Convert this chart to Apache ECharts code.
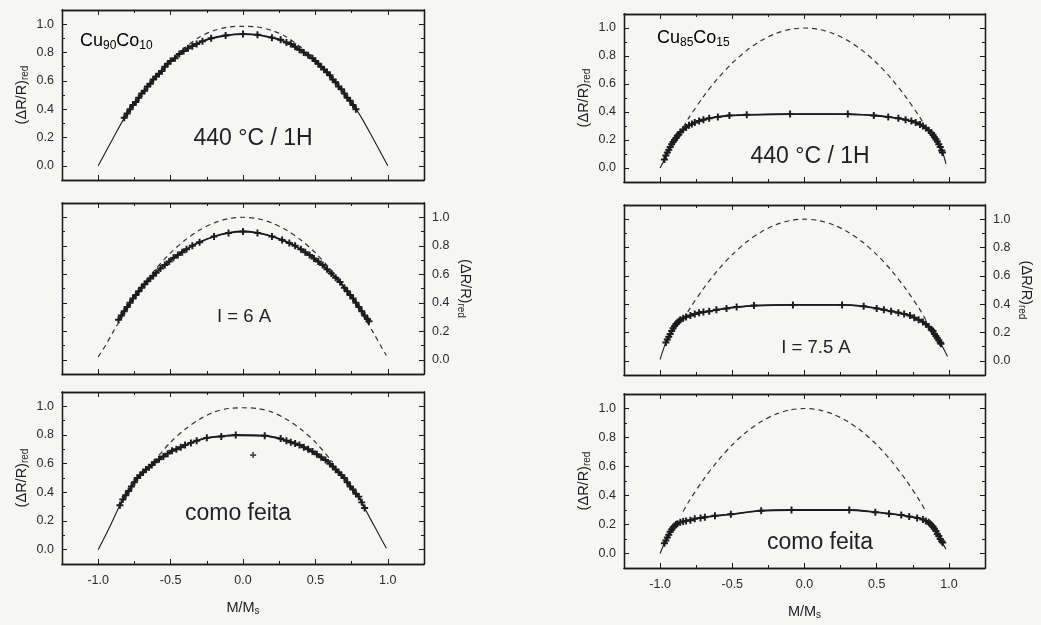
<!DOCTYPE html>
<html>
<head>
<meta charset="utf-8">
<script src="https://cdn.jsdelivr.net/npm/echarts@6/dist/echarts.min.js"></script>
<style>
  html, body { margin: 0; padding: 0; background: #f6f6f4; }
  #main { width: 1041px; height: 625px; }
</style>
</head>
<body>
<div id="main"></div>
<script>
// eixos
const xMajorTicks = [-1.0, -0.5, 0.0, 0.5, 1.0]
const xMinorTicks = [-0.75, -0.25, 0.25, 0.75]
const yMajorTicks = [0.0, 0.2, 0.4, 0.6, 0.8, 1.0]
const yMinorTicks = [0.1, 0.3, 0.5, 0.7, 0.9]

// curva 1 - m^2 (tracejada)
const theoCu90Top = [[-0.42, 0.82], [-0.3, 0.91], [-0.2, 0.955], [-0.1, 0.98], [0, 0.985], [0.1, 0.98], [0.2, 0.955], [0.3, 0.91], [0.42, 0.82]]
const theoCu90Mid = [[-1.0, 0.02], [-0.95, 0.1], [-0.9, 0.19], [-0.8, 0.36], [-0.7, 0.51], [-0.6, 0.64], [-0.5, 0.75], [-0.4, 0.84], [-0.3, 0.91], [-0.2, 0.96], [-0.1, 0.99], [0, 1.0], [0.1, 0.99], [0.2, 0.96], [0.3, 0.91], [0.4, 0.84], [0.5, 0.75], [0.6, 0.64], [0.7, 0.51], [0.8, 0.36], [0.9, 0.19], [0.95, 0.1], [0.99, 0.03]]
const theoCu90Bot = [[-0.62, 0.61], [-0.5, 0.75], [-0.4, 0.84], [-0.3, 0.91], [-0.2, 0.96], [-0.1, 0.985], [0, 0.99], [0.1, 0.985], [0.2, 0.96], [0.3, 0.91], [0.4, 0.84], [0.5, 0.75], [0.62, 0.61]]
const theoCu85 = [[-0.84, 0.29], [-0.8, 0.36], [-0.7, 0.51], [-0.6, 0.64], [-0.5, 0.75], [-0.4, 0.84], [-0.3, 0.91], [-0.2, 0.96], [-0.1, 0.99], [0, 1.0], [0.1, 0.99], [0.2, 0.96], [0.3, 0.91], [0.4, 0.84], [0.5, 0.75], [0.6, 0.64], [0.7, 0.51], [0.8, 0.36], [0.84, 0.29]]

// Cu90Co10 - 440 °C / 1H
const cu90RecFit = [[-1.0, 0.0], [-0.9, 0.19], [-0.8, 0.37], [-0.7, 0.51], [-0.6, 0.635], [-0.5, 0.74], [-0.4, 0.815], [-0.3, 0.87], [-0.2, 0.905], [-0.1, 0.925], [0, 0.93], [0.1, 0.925], [0.2, 0.905], [0.3, 0.87], [0.4, 0.815], [0.5, 0.74], [0.6, 0.635], [0.7, 0.51], [0.8, 0.37], [0.9, 0.19], [1.0, 0.0]]
const cu90RecData = [[-0.82, 0.34], [-0.8, 0.37], [-0.78, 0.4], [-0.76, 0.43], [-0.74, 0.45], [-0.72, 0.48], [-0.7, 0.51], [-0.68, 0.53], [-0.66, 0.56], [-0.64, 0.58], [-0.62, 0.61], [-0.6, 0.63], [-0.58, 0.65], [-0.56, 0.67], [-0.54, 0.7], [-0.52, 0.72], [-0.5, 0.74], [-0.47, 0.76], [-0.44, 0.79], [-0.41, 0.81], [-0.38, 0.83], [-0.35, 0.845], [-0.32, 0.86], [-0.28, 0.88], [-0.22, 0.9], [-0.12, 0.92], [0.0, 0.93], [0.1, 0.925], [0.2, 0.905], [0.26, 0.89], [0.3, 0.87], [0.33, 0.86], [0.36, 0.84], [0.39, 0.82], [0.42, 0.8], [0.45, 0.78], [0.48, 0.76], [0.5, 0.74], [0.52, 0.72], [0.54, 0.7], [0.56, 0.68], [0.58, 0.66], [0.6, 0.64], [0.62, 0.61], [0.64, 0.59], [0.66, 0.56], [0.68, 0.54], [0.7, 0.51], [0.72, 0.48], [0.74, 0.46], [0.76, 0.43], [0.78, 0.4]]

// Cu90Co10 - I = 6 A
const cu90I6Fit = [[-0.86, 0.28], [-0.8, 0.37], [-0.7, 0.505], [-0.6, 0.61], [-0.5, 0.7], [-0.4, 0.77], [-0.3, 0.825], [-0.2, 0.865], [-0.1, 0.89], [0, 0.9], [0.1, 0.89], [0.2, 0.865], [0.3, 0.825], [0.4, 0.775], [0.5, 0.7], [0.6, 0.615], [0.7, 0.505], [0.8, 0.37], [0.87, 0.27]]
const cu90I6Data = [[-0.86, 0.28], [-0.84, 0.31], [-0.82, 0.34], [-0.8, 0.37], [-0.78, 0.4], [-0.76, 0.43], [-0.74, 0.455], [-0.72, 0.48], [-0.7, 0.505], [-0.68, 0.53], [-0.66, 0.55], [-0.64, 0.57], [-0.62, 0.59], [-0.6, 0.61], [-0.57, 0.64], [-0.54, 0.665], [-0.51, 0.69], [-0.48, 0.715], [-0.45, 0.735], [-0.42, 0.755], [-0.39, 0.775], [-0.35, 0.8], [-0.3, 0.825], [-0.2, 0.865], [-0.1, 0.89], [0.0, 0.9], [0.1, 0.89], [0.2, 0.865], [0.27, 0.84], [0.32, 0.82], [0.36, 0.8], [0.4, 0.775], [0.43, 0.755], [0.46, 0.735], [0.49, 0.71], [0.52, 0.69], [0.55, 0.665], [0.58, 0.635], [0.61, 0.605], [0.64, 0.575], [0.67, 0.545], [0.7, 0.505], [0.72, 0.48], [0.74, 0.455], [0.76, 0.43], [0.78, 0.4], [0.8, 0.37], [0.82, 0.34], [0.84, 0.31], [0.86, 0.285], [0.87, 0.27]]

// Cu90Co10 - como feita
const cu90AsFit = [[-1.0, 0.0], [-0.92, 0.16], [-0.85, 0.31], [-0.8, 0.39], [-0.75, 0.47], [-0.7, 0.53], [-0.6, 0.62], [-0.5, 0.685], [-0.4, 0.73], [-0.3, 0.765], [-0.2, 0.79], [-0.1, 0.795], [0, 0.795], [0.1, 0.795], [0.2, 0.785], [0.3, 0.76], [0.4, 0.725], [0.5, 0.665], [0.6, 0.6], [0.7, 0.5], [0.8, 0.37], [0.84, 0.29], [0.92, 0.14], [0.99, 0.01]]
const cu90AsData = [[-0.85, 0.31], [-0.83, 0.35], [-0.81, 0.38], [-0.79, 0.41], [-0.77, 0.44], [-0.75, 0.47], [-0.73, 0.5], [-0.71, 0.52], [-0.69, 0.54], [-0.67, 0.56], [-0.65, 0.575], [-0.63, 0.59], [-0.61, 0.61], [-0.58, 0.63], [-0.55, 0.65], [-0.52, 0.67], [-0.49, 0.69], [-0.46, 0.7], [-0.43, 0.715], [-0.4, 0.73], [-0.36, 0.745], [-0.32, 0.76], [-0.25, 0.78], [-0.15, 0.79], [-0.05, 0.8], [0.15, 0.795], [0.26, 0.775], [0.3, 0.76], [0.33, 0.75], [0.36, 0.74], [0.39, 0.73], [0.42, 0.715], [0.45, 0.7], [0.48, 0.685], [0.51, 0.665], [0.54, 0.645], [0.57, 0.625], [0.6, 0.6], [0.62, 0.58], [0.64, 0.56], [0.66, 0.54], [0.68, 0.52], [0.7, 0.5], [0.72, 0.47], [0.74, 0.44], [0.76, 0.42], [0.78, 0.39], [0.8, 0.37], [0.82, 0.33], [0.84, 0.29]]
const cu90AsOutlier = [[0.07, 0.66]]

// Cu85Co15 - 440 °C / 1H
const cu85RecFit = [[-1.0, 0.0], [-0.97, 0.06], [-0.94, 0.13], [-0.9, 0.2], [-0.86, 0.255], [-0.8, 0.305], [-0.7, 0.345], [-0.6, 0.365], [-0.5, 0.375], [-0.4, 0.38], [-0.2, 0.385], [0, 0.385], [0.2, 0.385], [0.4, 0.38], [0.5, 0.372], [0.6, 0.362], [0.7, 0.345], [0.8, 0.31], [0.86, 0.27], [0.9, 0.22], [0.94, 0.15], [0.96, 0.1], [0.98, 0.03]]
const cu85RecData = [[-0.97, 0.06], [-0.96, 0.09], [-0.95, 0.11], [-0.94, 0.13], [-0.93, 0.15], [-0.92, 0.17], [-0.91, 0.185], [-0.9, 0.2], [-0.89, 0.215], [-0.88, 0.23], [-0.87, 0.24], [-0.86, 0.255], [-0.84, 0.275], [-0.82, 0.29], [-0.8, 0.305], [-0.78, 0.315], [-0.76, 0.325], [-0.73, 0.335], [-0.7, 0.345], [-0.66, 0.355], [-0.6, 0.365], [-0.52, 0.375], [-0.4, 0.38], [-0.1, 0.385], [0.3, 0.385], [0.48, 0.375], [0.58, 0.365], [0.65, 0.355], [0.7, 0.345], [0.74, 0.335], [0.77, 0.325], [0.8, 0.31], [0.82, 0.3], [0.84, 0.285], [0.86, 0.27], [0.88, 0.25], [0.89, 0.235], [0.9, 0.22], [0.91, 0.205], [0.92, 0.19], [0.93, 0.17], [0.94, 0.15], [0.95, 0.125], [0.955, 0.11]]

// Cu85Co15 - I = 7.5 A
const cu85I75Fit = [[-1.0, 0.01], [-0.96, 0.13], [-0.92, 0.21], [-0.88, 0.27], [-0.84, 0.3], [-0.78, 0.325], [-0.7, 0.345], [-0.6, 0.36], [-0.5, 0.375], [-0.35, 0.39], [-0.1, 0.395], [0.25, 0.395], [0.4, 0.385], [0.5, 0.37], [0.6, 0.35], [0.7, 0.325], [0.8, 0.285], [0.86, 0.24], [0.9, 0.19], [0.945, 0.12], [0.99, 0.03]]
const cu85I75Data = [[-0.96, 0.13], [-0.95, 0.15], [-0.94, 0.17], [-0.93, 0.19], [-0.92, 0.21], [-0.91, 0.23], [-0.9, 0.245], [-0.89, 0.26], [-0.88, 0.27], [-0.87, 0.28], [-0.86, 0.29], [-0.84, 0.3], [-0.82, 0.31], [-0.79, 0.32], [-0.76, 0.33], [-0.73, 0.34], [-0.7, 0.345], [-0.66, 0.35], [-0.61, 0.36], [-0.54, 0.37], [-0.47, 0.38], [-0.35, 0.39], [-0.08, 0.395], [0.26, 0.395], [0.41, 0.385], [0.5, 0.37], [0.55, 0.36], [0.6, 0.35], [0.65, 0.34], [0.69, 0.33], [0.73, 0.32], [0.76, 0.305], [0.79, 0.29], [0.82, 0.275], [0.84, 0.26], [0.86, 0.24], [0.88, 0.22], [0.89, 0.21], [0.9, 0.19], [0.91, 0.175], [0.92, 0.16], [0.93, 0.145], [0.94, 0.13], [0.945, 0.12]]

// Cu85Co15 - como feita
const cu85AsFit = [[-1.0, 0.0], [-0.97, 0.07], [-0.94, 0.13], [-0.91, 0.18], [-0.88, 0.205], [-0.84, 0.22], [-0.76, 0.24], [-0.62, 0.26], [-0.5, 0.272], [-0.3, 0.295], [-0.1, 0.3], [0.1, 0.3], [0.3, 0.3], [0.45, 0.29], [0.6, 0.272], [0.72, 0.255], [0.8, 0.24], [0.86, 0.215], [0.9, 0.17], [0.94, 0.1], [0.98, 0.03]]
const cu85AsData = [[-0.97, 0.07], [-0.96, 0.09], [-0.95, 0.11], [-0.94, 0.13], [-0.93, 0.15], [-0.92, 0.165], [-0.91, 0.18], [-0.9, 0.19], [-0.89, 0.2], [-0.88, 0.205], [-0.86, 0.215], [-0.84, 0.22], [-0.82, 0.225], [-0.79, 0.23], [-0.76, 0.24], [-0.72, 0.245], [-0.69, 0.25], [-0.62, 0.26], [-0.51, 0.27], [-0.3, 0.295], [-0.09, 0.3], [0.31, 0.3], [0.49, 0.285], [0.585, 0.275], [0.67, 0.265], [0.725, 0.255], [0.78, 0.245], [0.82, 0.235], [0.84, 0.225], [0.86, 0.215], [0.87, 0.205], [0.88, 0.195], [0.89, 0.185], [0.9, 0.17], [0.91, 0.155], [0.92, 0.135], [0.93, 0.12], [0.94, 0.1], [0.95, 0.085], [0.957, 0.075]]

const ink = '#1c1c1c'
const font = 'Liberation Sans, Arial, sans-serif'
const plusSymbol = 'path://M1.8,0L3.2,0L3.2,1.8L5,1.8L5,3.2L3.2,3.2L3.2,5L1.8,5L1.8,3.2L0,3.2L0,1.8L1.8,1.8Z'
const subRich = {
  n: { fontSize: 14.5, fontFamily: font, color: ink },
  s: { fontSize: 10, fontFamily: font, color: ink, padding: [7, 0, 0, 0] }
}

const panels = [
  { grid: { left: 62, top: 10, width: 362, height: 170 }, ySide: 'left', xName: false, fit: cu90RecFit, data: cu90RecData, extra: [], theo: theoCu90Top },
  { grid: { left: 62, top: 203, width: 362, height: 171 }, ySide: 'right', xName: false, fit: cu90I6Fit, data: cu90I6Data, extra: [], theo: theoCu90Mid },
  { grid: { left: 62, top: 392, width: 362, height: 172 }, ySide: 'left', xName: true, fit: cu90AsFit, data: cu90AsData, extra: cu90AsOutlier, theo: theoCu90Bot },
  { grid: { left: 624, top: 14, width: 361, height: 168 }, ySide: 'left', xName: false, fit: cu85RecFit, data: cu85RecData, extra: [], theo: theoCu85 },
  { grid: { left: 624, top: 205, width: 361, height: 170 }, ySide: 'right', xName: false, fit: cu85I75Fit, data: cu85I75Data, extra: [], theo: theoCu85 },
  { grid: { left: 624, top: 394, width: 361, height: 174 }, ySide: 'left', xName: true, fit: cu85AsFit, data: cu85AsData, extra: [], theo: theoCu85 }
]

const axisLine = { show: true, onZero: false, lineStyle: { color: ink, width: 1.3 } }
const labelStyle = { color: '#2a2a2a', fontSize: 12.5, fontFamily: font }

const xAxes = []
const yAxes = []
const series = []

panels.forEach((p, g) => {
  const xBase = { gridIndex: g, type: 'value', min: -1.25, max: 1.25, splitLine: { show: false }, axisLine }
  const yBase = { gridIndex: g, type: 'value', min: -0.1, max: 1.1, splitLine: { show: false }, axisLine }
  const otherSide = p.ySide === 'left' ? 'right' : 'left'

  xAxes.push(
    {
      ...xBase,
      position: 'bottom',
      axisTick: { inside: true, length: 5, customValues: xMajorTicks, lineStyle: { color: ink } },
      axisLabel: { show: p.xName, customValues: xMajorTicks, margin: 10, formatter: v => v.toFixed(1), ...labelStyle },
      name: p.xName ? '{n|M/M}{s|s}' : '',
      nameLocation: 'middle',
      nameGap: 35,
      nameTextStyle: { rich: subRich }
    },
    { ...xBase, position: 'bottom', axisTick: { inside: true, length: 3, customValues: xMinorTicks, lineStyle: { color: ink } }, axisLabel: { show: false } },
    { ...xBase, position: 'top', axisTick: { inside: true, length: 5, customValues: xMajorTicks, lineStyle: { color: ink } }, axisLabel: { show: false } },
    { ...xBase, position: 'top', axisTick: { inside: true, length: 3, customValues: xMinorTicks, lineStyle: { color: ink } }, axisLabel: { show: false } }
  )

  yAxes.push(
    {
      ...yBase,
      position: p.ySide,
      axisTick: { inside: true, length: 5, customValues: yMajorTicks, lineStyle: { color: ink } },
      axisLabel: { customValues: yMajorTicks, margin: 8, formatter: v => v.toFixed(1), ...labelStyle },
      name: '{n|(ΔR/R)}{s|red}',
      nameLocation: 'middle',
      nameGap: p.ySide === 'left' ? 32 : 32,
      nameRotate: p.ySide === 'left' ? 90 : -90,
      nameTextStyle: { rich: subRich }
    },
    { ...yBase, position: p.ySide, axisTick: { inside: true, length: 3, customValues: yMinorTicks, lineStyle: { color: ink } }, axisLabel: { show: false } },
    { ...yBase, position: otherSide, axisTick: { inside: true, length: 5, customValues: yMajorTicks, lineStyle: { color: ink } }, axisLabel: { show: false } },
    { ...yBase, position: otherSide, axisTick: { inside: true, length: 3, customValues: yMinorTicks, lineStyle: { color: ink } }, axisLabel: { show: false } }
  )

  const idx = { xAxisIndex: g * 4, yAxisIndex: g * 4 }
  series.push(
    {
      ...idx,
      type: 'line',
      data: p.theo,
      smooth: 0.3,
      showSymbol: false,
      lineStyle: { color: '#333', width: 1.2, type: [5, 4] },
      z: 2
    },
    {
      ...idx,
      type: 'line',
      data: p.fit,
      smooth: 0.3,
      showSymbol: false,
      lineStyle: { color: ink, width: 1.1 },
      z: 3
    },
    {
      ...idx,
      type: 'line',
      data: p.data,
      smooth: 0.3,
      symbol: plusSymbol,
      symbolSize: 7,
      showAllSymbol: true,
      itemStyle: { color: ink },
      lineStyle: { color: ink, width: 1.8 },
      z: 4
    },
    {
      ...idx,
      type: 'scatter',
      data: p.extra,
      symbol: plusSymbol,
      symbolSize: 6,
      itemStyle: { color: ink },
      z: 4
    }
  )
})

const big = { fontSize: 23, fontFamily: font, fill: '#222' }
const mid = { fontSize: 18.5, fontFamily: font, fill: '#222' }
const compRich = {
  a: { fontSize: 18, fontFamily: font, color: '#222' },
  b: { fontSize: 12, fontFamily: font, color: '#222', padding: [10, 0, 0, 0] }
}

const graphic = [
  { type: 'text', left: 80, top: 32, style: { text: '{a|Cu}{b|90}{a|Co}{b|10}', rich: compRich } },
  { type: 'text', x: 253, y: 139, style: { text: '440 °C / 1H', align: 'center', verticalAlign: 'middle', ...big } },
  { type: 'text', x: 244, y: 317, style: { text: 'I = 6 A', align: 'center', verticalAlign: 'middle', ...mid } },
  { type: 'text', x: 238, y: 514, style: { text: 'como feita', align: 'center', verticalAlign: 'middle', ...big } },
  { type: 'text', left: 657, top: 29, style: { text: '{a|Cu}{b|85}{a|Co}{b|15}', rich: compRich } },
  { type: 'text', x: 810, y: 157, style: { text: '440 °C / 1H', align: 'center', verticalAlign: 'middle', ...big } },
  { type: 'text', x: 816, y: 348, style: { text: 'I = 7.5 A', align: 'center', verticalAlign: 'middle', ...mid } },
  { type: 'text', x: 820, y: 543, style: { text: 'como feita', align: 'center', verticalAlign: 'middle', ...big } }
]

const chart = echarts.init(document.getElementById('main'))
chart.setOption({
  backgroundColor: '#f6f6f4',
  animation: false,
  grid: panels.map(p => p.grid),
  xAxis: xAxes,
  yAxis: yAxes,
  series,
  graphic
})
</script>
</body>
</html>
